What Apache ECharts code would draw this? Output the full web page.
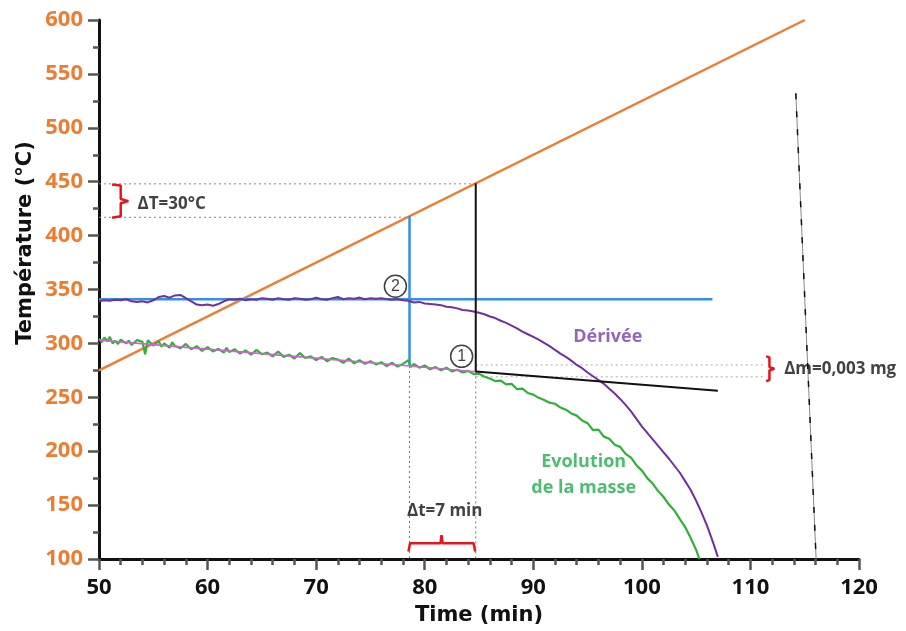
<!DOCTYPE html>
<html><head><meta charset="utf-8">
<script src="https://cdn.jsdelivr.net/npm/echarts@6/dist/echarts.min.js"></script>
<style>html,body{margin:0;padding:0;background:#fff}#c{width:906px;height:631px}</style>
</head><body><div id="c"></div>
<script>
// ---- data ----
const temperature = [[50, 275], [115, 600]];
const derivee = [[50,339],[50.5,340],[51,339.5],[51.5,340.5],[52,340],[52.5,341],[53,339],[53.5,338.5],[54,339],[54.5,338],[55,340],[55.5,343],[56,344],[56.5,342.5],[57,344.5],[57.5,345],[58,342],[58.5,339],[59,336],[59.5,335.5],[60,336],[60.5,335],[61,336.5],[61.5,339],[62,341],[62.5,340.5],[63,341.5],[63.5,340],[64,341],[64.5,340.5],[65,342],[65.5,341.5],[66,340.5],[66.5,342],[67,341],[67.5,340.5],[68,342],[68.5,341.5],[69,340.5],[69.5,341],[70,342.5],[70.5,341],[71,340.5],[71.5,342],[72,343],[72.5,341],[73,342],[73.5,341.5],[74,342.5],[74.5,341],[75,342],[75.5,341.5],[76,342],[76.5,341],[77,340.5],[77.5,341],[78,340],[78.5,339.5],[79,338],[79.5,338.5],[80,337],[80.5,336.5],[81,336],[81.5,335.5],[82,334],[82.5,333.5],[83,332.5],[83.5,331],[84,330.5],[84.5,329.5],[85,328.5],[85.5,327],[86,325],[86.5,323.5],[87,321],[87.5,319],[88,316.5],[88.5,314],[89,311],[89.5,308.5],[90,306],[90.5,303.5],[91,300.5],[91.5,297.5],[92,294],[92.5,290.5],[93,287.5],[93.5,284],[94,280],[94.5,277],[95,273],[95.5,269.5],[96,266],[96.5,262.5],[97,258],[97.5,253.5],[98,248.5],[98.5,243],[99,237],[99.5,230],[100,223],[100.5,217],[101,211],[101.5,205],[102,199],[102.5,193],[103,186.5],[103.5,180],[104,172],[104.5,164],[105,154],[105.5,143],[106,131],[106.5,117],[107,102]];
const masse = [[50,304.5],[50.25,301],[50.5,305.5],[50.75,302],[51,306],[51.25,300],[51.5,302.5],[51.75,299.5],[52,303.5],[52.5,300],[52.75,302.5],[53,298.5],[53.5,303],[54,301.5],[54.25,290],[54.5,303],[55,298],[55.5,302],[55.75,297],[56,300],[56.5,296],[56.75,301],[57,297.5],[57.5,295.5],[58,299.5],[58.5,294.5],[59,297.5],[59.5,293],[60,296.5],[60.5,292.5],[61,295],[61.5,291.5],[61.75,296],[62,292],[62.5,294.5],[63,290.5],[63.5,293.5],[64,289.5],[64.5,294],[65,290],[65.5,291.5],[66,288],[66.5,292.5],[67,287.5],[67.5,289.5],[68,286],[68.5,291],[69,286.5],[69.5,288],[70,284.5],[70.5,287.5],[71,283.5],[71.5,286.5],[72,285],[72.5,282],[73,286],[73.5,281.5],[74,284.5],[74.5,281],[75,283.5],[75.5,280.5],[76,282.5],[76.5,279],[77,282],[77.5,278.5],[78,281],[78.5,284.5],[78.75,278],[79,281],[79.5,277.5],[80,279.5],[80.5,276],[81,278],[81.5,275],[82,277.5],[82.5,274],[83,275.5],[83.5,273],[84,274.5],[84.5,271.5],[85,272],[85.5,269],[86,267.5],[86.5,265],[87,265.5],[87.5,262],[88,262.5],[88.5,257.5],[89,258],[89.5,254],[90,252.5],[90.5,249.5],[91,247.5],[91.5,245],[92,244],[92.5,240.5],[93,238.5],[93.5,235],[94,233],[94.5,228.5],[95,226],[95.5,219.5],[96,220],[96.5,213.5],[97,211.5],[97.5,206],[98,204],[98.5,197.5],[99,194],[99.5,187],[100,182],[100.5,175],[101,170],[101.5,163],[102,157.5],[102.5,150.5],[103,145],[103.5,137],[104,129.5],[104.5,119.5],[105,108.5],[105.3,100]];
const fit = [[50,303],[68,288],[78.6,279],[85,273.5]];
const blueH = [[50,341],[106.5,341]];
const blueV = [[78.6,279],[78.6,418]];
const blackV = [[84.7,274],[84.7,448.5]];
const tangent = [[84.7,274],[107,256]];
const dotT1 = [[50,448],[84.7,448]];
const dotT2 = [[50,417],[78.6,417]];
const dotV1 = [[78.6,279],[78.6,100]];
const dotV2 = [[84.7,274],[84.7,100]];
const dotM1 = [[84.7,280],[111.3,280]];
const dotM2 = [[84.7,269],[111.3,269]];
const slantLine = [[114.18,532],[116.05,100]];
const braceT = [[51.2,447.5],[52.0,446.5],[52.0,434],[52.7,432],[52.0,430],[52.0,418],[51.2,416.5]];
const braceDt = [[78.5,107],[78.65,114.6],[81.45,114.6],[81.55,122],[81.65,114.6],[84.5,114.6],[84.65,107]];
const braceM = [[111.45,288],[111.75,287],[111.75,278],[112.2,276.5],[111.75,275],[111.75,266],[111.45,265]];
const noteText = ['ΔT=30°C', 'Δt=7 min', 'Δm=0,003 mg'];
const noteAt = [[53.54,429.3],[78.36,144.5],[113.1,276.3]];
const circleText = ['1', '2'];
const circleAt = [[83.4,288],[77.3,353]];
const xTicks = [50, 120, 10];
const yTicks = [100, 600, 50];

// ---- chart ----
const ORANGE = '#ED7D31', PURPLE = '#7030A0', GREEN = '#2DB236', BLUE = '#3390E6', RED = '#E8141B';
function ln(data, color, width, type, z) {
  return { type: 'line', data, showSymbol: false, silent: true, z: z || 2,
    lineStyle: { color, width, type: type || 'solid' }, animation: false };
}
const chart = echarts.init(document.getElementById('c'));
const series = [
  ln(dotT1, '#888', 1, [2, 3]), ln(dotT2, '#888', 1, [2, 3]),
  ln(dotV1, '#777', 1, [2, 3]), ln(dotV2, '#777', 1, [2, 3]),
  ln(dotM1, '#aaa', 1, [2, 3]), ln(dotM2, '#aaa', 1, [2, 3]),
  ln(temperature, ORANGE, 2.5, 'solid', 3),
  ln(blueH, BLUE, 2.5, 'solid', 3), ln(blueV, BLUE, 2.5, 'solid', 3),
  ln(masse, GREEN, 2.2, 'solid', 4),
  ln(fit, '#CC66CC', 1.6, 'solid', 5),
  ln(derivee, PURPLE, 2, 'solid', 4),
  ln(blackV, '#111', 2, 'solid', 6), ln(tangent, '#111', 2, 'solid', 6),
  ln(slantLine, '#888', 1, 'solid', 3), ln(slantLine, '#111', 1.5, [6, 12], 3),
  ln(braceT, RED, 2.5, 'solid', 7), ln(braceDt, RED, 2.5, 'solid', 7), ln(braceM, RED, 2.5, 'solid', 7),
  { type: 'scatter', silent: true, z: 8, symbolSize: 0.1, itemStyle: { color: 'rgba(0,0,0,0)' },
    data: noteAt.map((p, i) => ({ value: p, name: noteText[i] })),
    label: { show: true, position: 'right', distance: 0, formatter: '{b}', color: '#111',
      fontFamily: 'Open Sans', fontWeight: 'bold', fontSize: 17 } },
  { type: 'scatter', silent: true, z: 8, symbolSize: 0.1, itemStyle: { color: 'rgba(0,0,0,0)' },
    data: [{ value: [93.67, 306.2], name: 'Dérivée' }],
    label: { show: true, position: 'right', distance: 0, formatter: '{b}', color: '#7A3DAA',
      fontFamily: 'Open Sans', fontWeight: 'bold', fontSize: 18 } },
  { type: 'scatter', silent: true, z: 8, symbolSize: 0.1, itemStyle: { color: 'rgba(0,0,0,0)' },
    data: [{ value: [94.64, 177.9], name: 'Evolution\nde la masse' }],
    label: { show: true, position: 'inside', align: 'center', verticalAlign: 'middle', lineHeight: 26,
      formatter: '{b}', color: '#1FAE4B', fontFamily: 'Open Sans', fontWeight: 'bold', fontSize: 18 } },
  { type: 'scatter', silent: true, z: 9, symbol: 'circle', symbolSize: 22,
    itemStyle: { color: '#fff', borderColor: '#111', borderWidth: 1.5 },
    data: circleAt.map((p, i) => ({ value: p, name: circleText[i] })),
    label: { show: true, position: 'inside', formatter: '{b}', color: '#111',
      fontFamily: 'Liberation Sans', fontSize: 16 } }
];
chart.setOption({
  animation: false,
  backgroundColor: '#fff',
  grid: { left: 99, right: 47, top: 20, bottom: 72 },
  xAxis: {
    type: 'value', min: xTicks[0], max: xTicks[1], interval: xTicks[2],
    name: 'Time (min)', nameLocation: 'middle', nameGap: 46,
    nameTextStyle: { fontFamily: 'DejaVu Sans', fontWeight: 'bold', fontSize: 21, color: '#111' },
    axisLine: { show: true, onZero: false, lineStyle: { color: '#111', width: 3 } },
    axisTick: { show: true, length: 11, lineStyle: { color: '#555', width: 2.5 } },
    minorTick: { show: true, splitNumber: 5, length: 6, lineStyle: { color: '#555', width: 2.5 } },
    splitLine: { show: false },
    axisLabel: { margin: 18, color: '#111', fontFamily: 'Open Sans', fontWeight: 'bold', fontSize: 22 }
  },
  yAxis: {
    type: 'value', min: yTicks[0], max: yTicks[1], interval: yTicks[2],
    axisLine: { show: true, onZero: false, lineStyle: { color: '#111', width: 3 } },
    axisTick: { show: true, length: 11, lineStyle: { color: '#555', width: 2.5 } },
    minorTick: { show: true, splitNumber: 2, length: 6, lineStyle: { color: '#555', width: 2.5 } },
    splitLine: { show: false },
    axisLabel: { margin: 16, color: ORANGE, fontFamily: 'Open Sans', fontWeight: 'bold', fontSize: 22 }
  },
  graphic: [{
    type: 'text', x: 26, y: 243, rotation: Math.PI / 2, silent: true,
    style: { text: 'Température (°C)', font: 'bold 21px "DejaVu Sans"', fill: '#111',
      align: 'center', verticalAlign: 'middle', textAlign: 'center', textVerticalAlign: 'middle' }
  }],
  series
});
</script></body></html>
